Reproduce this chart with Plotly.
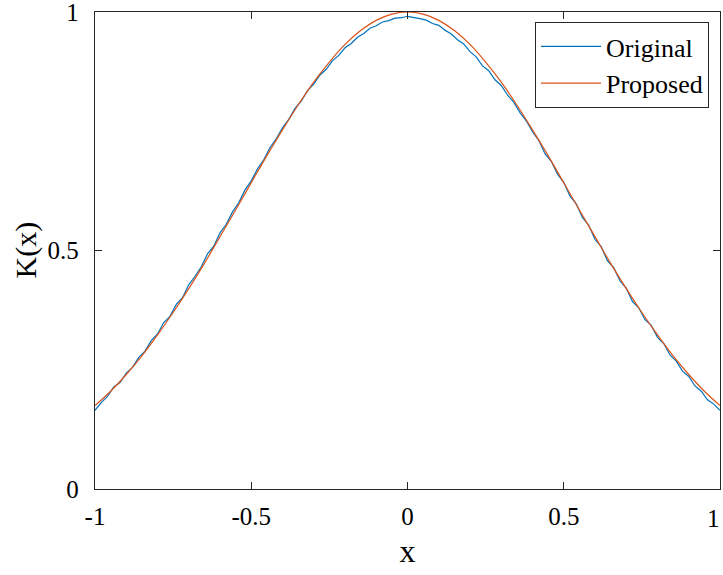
import plotly.graph_objects as go

# ---- data ----
x_prop = [-1.00, -0.95, -0.90, -0.85, -0.80, -0.75, -0.70, -0.65, -0.60, -0.55,
          -0.50, -0.45, -0.40, -0.35, -0.30, -0.25, -0.20, -0.15, -0.10, -0.05,
          0.00, 0.05, 0.10, 0.15, 0.20, 0.25, 0.30, 0.35, 0.40, 0.45,
          0.50, 0.55, 0.60, 0.65, 0.70, 0.75, 0.80, 0.85, 0.90, 0.95, 1.00]
y_prop = [0.175, 0.205, 0.240, 0.279, 0.323, 0.370, 0.420, 0.473, 0.529, 0.585,
          0.642, 0.699, 0.753, 0.805, 0.853, 0.895, 0.932, 0.961, 0.9825, 0.9956,
          1.000, 0.9956, 0.9825, 0.961, 0.932, 0.895, 0.853, 0.805, 0.753, 0.699,
          0.642, 0.585, 0.529, 0.473, 0.420, 0.370, 0.323, 0.279, 0.240, 0.205, 0.175]

x_orig = [round(-1 + 0.02 * i, 2) for i in range(101)]
y_orig = [0.165, 0.181, 0.194, 0.214, 0.223, 0.243, 0.255, 0.276, 0.289, 0.311,
          0.325, 0.349, 0.362, 0.387, 0.401, 0.428, 0.446, 0.466, 0.493, 0.509,
          0.537, 0.555, 0.581, 0.600, 0.627, 0.646, 0.671, 0.690, 0.716, 0.734,
          0.757, 0.775, 0.798, 0.813, 0.835, 0.849, 0.868, 0.880, 0.898, 0.909,
          0.925, 0.934, 0.947, 0.955, 0.966, 0.971, 0.979, 0.982, 0.987, 0.988,
          0.991,
          0.989, 0.986, 0.983, 0.976, 0.972, 0.962, 0.954, 0.942, 0.933, 0.917,
          0.906, 0.887, 0.877, 0.858, 0.846, 0.826, 0.811, 0.789, 0.772, 0.749,
          0.731, 0.703, 0.687, 0.660, 0.643, 0.614, 0.598, 0.569, 0.553, 0.523,
          0.508, 0.478, 0.464, 0.436, 0.421, 0.393, 0.380, 0.355, 0.343, 0.318,
          0.305, 0.281, 0.268, 0.247, 0.236, 0.216, 0.205, 0.187, 0.178, 0.165]

x_tickvals = [-1, -0.5, 0, 0.5, 1]
x_ticktext = ["-1", "-0.5", "0", "0.5", "1"]
y_tickvals = [0, 0.5, 1]
y_ticktext = ["0", "0.5", "1"]

FONT = "Liberation Serif"
AX = "#262626"

fig = go.Figure()
fig.add_trace(go.Scatter(x=x_orig, y=y_orig, mode="lines", name="Original",
                         line=dict(color="#0072BD", width=1.2)))
fig.add_trace(go.Scatter(x=x_prop, y=y_prop, mode="lines", name="Proposed",
                         line=dict(color="#D95319", width=1.2, shape="spline")))

axis_common = dict(showline=True, linecolor=AX, linewidth=1.3, mirror="allticks",
                   ticks="inside", ticklen=7, tickcolor=AX, tickwidth=1.3,
                   showgrid=False, zeroline=False, automargin=False,
                   ticklabeloverflow="allow",
                   tickfont=dict(family=FONT, size=25, color="black"))

# the last x tick label sits on the right edge of the page; it is drawn as an
# annotation anchored to its tick so that it is not cut off
fig.update_xaxes(range=[-1, 1], tickvals=x_tickvals,
                 ticktext=x_ticktext[:-1] + [""],
                 ticklabelstandoff=5,
                 title=dict(text="x", font=dict(family=FONT, size=32, color="black"),
                            standoff=10),
                 **axis_common)
fig.add_annotation(x=x_tickvals[-1], y=0, xref="x", yref="paper",
                   text=x_ticktext[-1], showarrow=False,
                   xanchor="right", yanchor="top", xshift=2, yshift=-14,
                   font=dict(family=FONT, size=25, color="black"))
fig.update_yaxes(range=[0, 1], tickvals=y_tickvals, ticktext=y_ticktext,
                 ticklabelstandoff=10,
                 **axis_common)
fig.add_annotation(x=0, y=0.5, xref="paper", yref="paper", text="K(x)",
                   textangle=-90, showarrow=False, xanchor="center",
                   yanchor="middle", xshift=-70,
                   font=dict(family=FONT, size=30, color="black"))

fig.update_layout(
    width=723, height=575,
    margin=dict(l=95, r=3, t=12, b=86),
    plot_bgcolor="white", paper_bgcolor="white",
    font=dict(family=FONT, color="black"),
    legend=dict(x=0.8432, y=0.979, xanchor="center", yanchor="top",
                bordercolor=AX, borderwidth=1, bgcolor="white",
                font=dict(family=FONT, size=26, color="black"),
                itemwidth=60),
    showlegend=True,
)

fig.write_html("out.html", config={"displayModeBar": False},
               post_script="document.body.style.margin='0';document.body.style.padding='0';")
